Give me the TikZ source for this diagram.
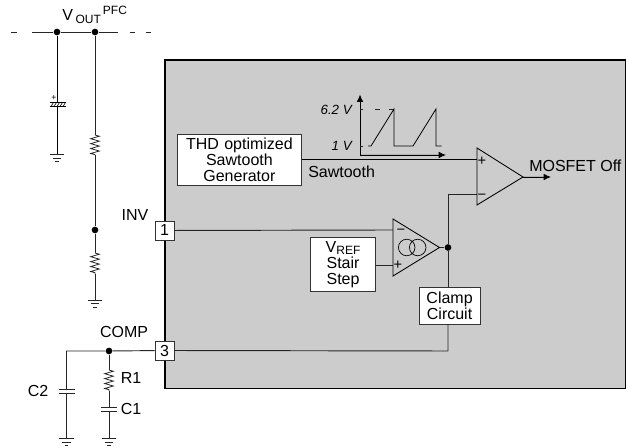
\documentclass[tikz,border=0pt]{standalone}
\usepackage{fontspec}
\setmainfont{Liberation Sans}
\usetikzlibrary{arrows.meta,decorations.pathmorphing}
\tikzset{
  pinbox/.style={draw=black!80,fill=white,line width=.6pt,minimum size=14.2pt,inner sep=0pt,font=\fontsize{12}{12}\selectfont},
  blockbox/.style={draw=black!80,fill=white,line width=.6pt,inner sep=0pt,align=center,font=\fontsize{12}{12}\selectfont},
  lbl/.style={inner sep=0pt,font=\fontsize{12}{12}\selectfont},
  signnode/.style={inner sep=0pt,font=\fontsize{11}{11}\selectfont},
  dotnode/.style={circle,fill=black,inner sep=0pt,minimum size=5pt},
  wire/.style={line width=.7pt,draw=black!85},
  resistor/.style={line width=.6pt,draw=black!85,decorate,decoration={zigzag,segment length=3.7pt,amplitude=3.2pt}},
  opamp/.style={draw=black,line width=.65pt},
  tip/.style={-{Latex[length=5.5pt,width=5pt]},draw=black,fill=black}
}
\newcommand{\gnd}[1]{% ground symbol under a coordinate
  \draw[wire] (#1) ++(-5.4pt,0) -- ++(10.8pt,0);
  \draw[wire] (#1) ++(-3.2pt,-2.7pt) -- ++(6.4pt,0);
  \draw[wire] (#1) ++(-1.4pt,-5.4pt) -- ++(2.8pt,0);
}
\begin{document}
% picture is 626x448 px, 1px = 0.75pt
\begin{tikzpicture}[x=.75pt,y=-.75pt]
  \useasboundingbox (0,0) rectangle (626,448);
  % chip body
  \draw[fill=black!20,line width=.9pt] (165,60) rectangle (626,388.5);

  % top rail
  \coordinate (railL) at (32,32);
  \coordinate (railR) at (118,32);
  \node (dotc) [dotnode] at (57,32) {};
  \node (dotr) [dotnode] at (95,32) {};
  \draw[wire] (railL) -- (dotc) -- (dotr) -- (railR);
  \coordinate (dashA) at (10.5,32);
  \coordinate (dashB) at (17,32);
  \coordinate (dashC) at (130,32);
  \coordinate (dashD) at (135,32);
  \coordinate (dashE) at (146,32);
  \coordinate (dashF) at (151,32);
  \draw[wire] (dashA) -- (dashB);
  \draw[wire] (dashC) -- (dashD);
  \draw[wire] (dashE) -- (dashF);
  \node (vout) [lbl,anchor=base west] at (62,21) {V\,{\fontsize{9}{9}\selectfont\raisebox{-2pt}{OUT}\,\raisebox{4.5pt}{PFC}}};

  % bulk capacitor
  \coordinate (capT) at (57,102);
  \coordinate (capB) at (57,107);
  \coordinate (gndC) at (57,154.5);
  \draw[wire,black] (dotc) -- (capT);
  \draw[wire,black] (capB) -- (gndC);
  \draw[line width=.5pt] (50,102.5) -- (65.5,102.5) (50,106.5) -- (65.5,106.5);
  \foreach \hx in {51,54,57,60,63}
    \draw[line width=.45pt] (\hx,106.5) -- ++(2.5,-4);
  \node (capplus) [inner sep=0pt,font=\fontsize{6.5}{6.5}\selectfont] at (54,98) {+};
  \gnd{gndC}

  % divider
  \node (invdot) [dotnode] at (95,230) {};
  \coordinate (rtopT) at (95,135);
  \coordinate (rtopB) at (95,155);
  \coordinate (rbotT) at (95,253);
  \coordinate (rbotB) at (95,274);
  \coordinate (gndD) at (95,300);
  \draw[wire] (dotr) -- (rtopT);
  \draw[resistor] (rtopT) -- (rtopB);
  \draw[wire] (rtopB) -- (invdot) -- (rbotT);
  \draw[resistor] (rbotT) -- (rbotB);
  \draw[wire] (rbotB) -- (gndD);
  \gnd{gndD}

  % pins
  \node (pinone) [pinbox] at (164.5,230.5) {1};
  \node (pinthree) [pinbox] at (164.5,350.5) {3};
  \node (inv) [lbl] at (135,215) {INV};
  \node (comp) [lbl] at (124,332) {COMP};

  % compensation
  \node (compdot) [dotnode] at (109,351) {};
  \coordinate (cornerC) at (66.5,351);
  \coordinate (ctwoT) at (66.5,389);
  \coordinate (ctwoB) at (66.5,393);
  \coordinate (gndE) at (66.5,438.5);
  \coordinate (roneT) at (109,370);
  \coordinate (roneB) at (109,391);
  \coordinate (coneT) at (109,407.5);
  \coordinate (coneB) at (109,411.5);
  \coordinate (gndF) at (109,438.5);
  \draw[wire] (pinthree) -- (compdot) -- (cornerC) -- (ctwoT);
  \draw[wire] (59,389) -- (74.5,389) (59,393) -- (74.5,393);
  \draw[wire] (ctwoB) -- (gndE);
  \gnd{gndE}
  \draw[wire] (compdot) -- (roneT);
  \draw[resistor] (roneT) -- (roneB);
  \draw[wire] (roneB) -- (coneT);
  \draw[wire] (101,407.5) -- (116.5,407.5) (101,411.5) -- (116.5,411.5);
  \draw[wire] (coneB) -- (gndF);
  \gnd{gndF}
  \node (rone) [lbl] at (131,378) {R1};
  \node (cone) [lbl] at (131,409) {C1};
  \node (ctwo) [lbl] at (38,391) {C2};

  % sawtooth graph
  \coordinate (axisO) at (360,155);
  \coordinate (axisY) at (360,94.5);
  \coordinate (axisX) at (446,155);
  \draw[wire,tip] (axisO) -- (axisY);
  \draw[wire,tip] (axisO) -- (axisX);
  \draw[wire] (360,146) -- (363,146);
  \draw[wire] (360,109) -- (363,109);
  \draw[wire] (375,109) -- (380,109);
  \draw[wire] (389,109) -- (394,109);
  \draw[line width=.6pt] (368,146) -- (371,146) -- (394,109) -- (394,146) -- (413,146) -- (436,109) -- (436,146) -- (441.5,146);
  \node (vhigh) [lbl,anchor=east,font=\fontsize{10}{10}\selectfont\itshape] at (352,110) {6.2 V};
  \node (vlow) [lbl,anchor=east,font=\fontsize{10}{10}\selectfont\itshape] at (352,146) {1 V};

  % blocks
  \node (gen) [blockbox,anchor=north west,minimum width=93pt,minimum height=38pt,text width=93pt] at (177,134) {THD optimized\\Sawtooth\\Generator};
  \node (stair) [blockbox,anchor=north west,minimum width=49pt,minimum height=40.5pt,text width=49pt] at (310,237.5) {V{\fontsize{9}{9}\selectfont\raisebox{-1.5pt}{REF}}\\Stair\\Step};
  \node (clamp) [blockbox,anchor=north west,minimum width=46pt,minimum height=27.5pt,text width=46pt] at (418.5,287) {Clamp\\Circuit};
  \node (saw) [lbl,anchor=west] at (308,172) {Sawtooth};

  % comparators
  \coordinate (cmpa) at (477,148);
  \coordinate (cmpb) at (477,205);
  \coordinate (cmpo) at (523,177);
  \coordinate (otaa) at (393,219);
  \coordinate (otab) at (393,276);
  \coordinate (otao) at (439.5,247.5);
  \coordinate (cmpplus) at (477,159.5);
  \coordinate (cmpminus) at (477,194);
  \coordinate (otaminus) at (393,230);
  \coordinate (otaplus) at (393,265);
  \node (clampdot) [dotnode] at (448,247.5) {};
  \coordinate (cmpturn) at (448,194);
  \coordinate (compturn) at (448,351);
  \coordinate (mosend) at (551,177);

  \draw[wire,black] (gen.east |- cmpplus) -- (cmpplus);
  \draw[wire] (pinone) -- (otaminus);
  \draw[wire] (stair.east |- otaplus) -- (otaplus);
  \draw[wire] (pinthree) -- (compturn) -- (clamp.south -| compturn);
  \draw[wire] (clamp.north -| compturn) -- (clampdot) -- (cmpturn) -- (cmpminus);
  \draw[wire] (otao) -- (clampdot);
  \draw[wire,tip] (cmpo) -- (mosend);
  \draw[opamp,fill=black!20] (cmpa) -- (cmpb) -- (cmpo) -- cycle;
  \draw[opamp,fill=black!20] (otaa) -- (otab) -- (otao) -- cycle;
  \draw[line width=.5pt] (406.7,247.5) circle (6.2pt) (417.7,247.5) circle (6.2pt);
  \node (cplus) [signnode] at (482,161) {+};
  \node (cminus) [signnode] at (482,196.5) {\textminus};
  \node (oplus) [signnode] at (398,265) {+};
  \node (ominus) [signnode] at (401,232) {\textminus};
  \node (mos) [lbl,anchor=west] at (529,166) {MOSFET Off};
\end{tikzpicture}
\end{document}
